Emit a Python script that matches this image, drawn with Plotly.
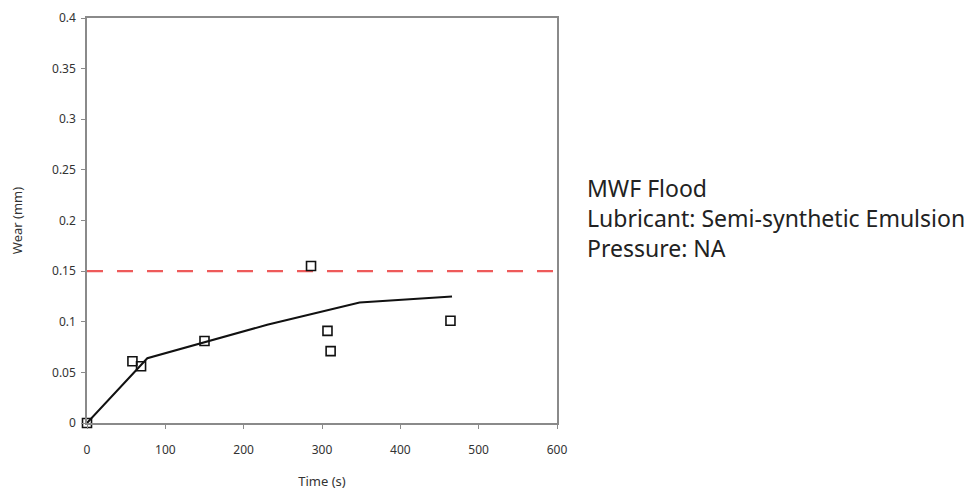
import plotly.graph_objects as go

# Measured wear points
time_s = [0, 58, 69, 150, 286, 307, 311, 464]
wear_mm = [0, 0.061, 0.056, 0.081, 0.155, 0.091, 0.071, 0.101]

# Fitted wear curve
fit_time = [0, 77, 230, 348, 466]
fit_wear = [0, 0.064, 0.097, 0.119, 0.125]

# Wear limit
limit_time = [0, 600]
limit_wear = [0.15, 0.15]

x_ticks = [0, 100, 200, 300, 400, 500, 600]
y_ticks = [0, 0.05, 0.1, 0.15, 0.2, 0.25, 0.3, 0.35, 0.4]
y_labels = ["0", "0.05", "0.1", "0.15", "0.2", "0.25", "0.3", "0.35", "0.4"]

fig = go.Figure()
fig.add_trace(go.Scatter(x=limit_time, y=limit_wear, mode="lines",
                         line=dict(color="#ee5a5a", width=2.2, dash="16px,14px"),
                         showlegend=False, hoverinfo="skip"))
fig.add_trace(go.Scatter(x=fit_time, y=fit_wear, mode="lines",
                         line=dict(color="#111111", width=2),
                         showlegend=False))
fig.add_trace(go.Scatter(x=time_s, y=wear_mm, mode="markers",
                         marker=dict(symbol="square-open", size=9,
                                     color="#111111", line=dict(width=1.6)),
                         showlegend=False, cliponaxis=False))

axis_common = dict(showline=True, linecolor="#8a8a8a", linewidth=1.5, mirror=True,
                   showgrid=False, zeroline=False, ticks="outside", ticklen=4,
                   tickcolor="#8a8a8a", tickwidth=1, automargin=False,
                   tickfont=dict(family="Noto Sans", size=12, color="#333333"))

fig.update_layout(
    width=972, height=491,
    margin=dict(l=87, r=415, t=18, b=68),
    paper_bgcolor="white", plot_bgcolor="white",
    xaxis=dict(range=[0, 600], tickvals=x_ticks, ticklabelstandoff=11,
               title=dict(text="Time (s)", standoff=20,
                          font=dict(family="Noto Sans", size=13, color="#333333")),
               **axis_common),
    yaxis=dict(range=[0, 0.4], tickvals=y_ticks, ticktext=y_labels, ticklabelstandoff=3,
               title=dict(text="Wear (mm)", standoff=26,
                          font=dict(family="Noto Sans", size=13, color="#333333")),
               **axis_common),
    annotations=[dict(
        xref="paper", yref="paper", x=1.06, y=0.506, xanchor="left", yanchor="middle",
        showarrow=False, align="left",
        text="MWF Flood<br>Lubricant: Semi-synthetic Emulsion<br>Pressure: NA",
        font=dict(family="Noto Sans", size=23, color="#222222"))],
)

fig.write_html("out.html")
